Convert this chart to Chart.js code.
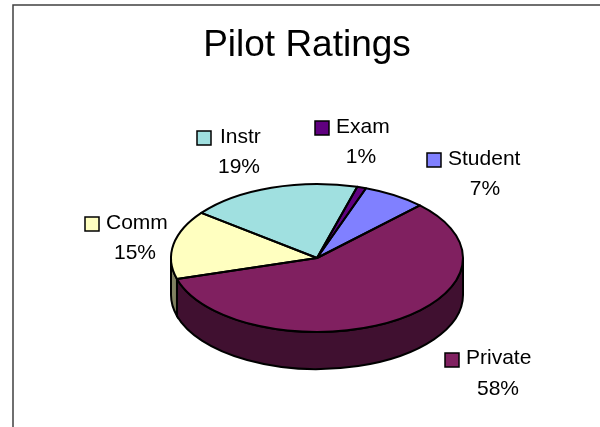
<!DOCTYPE html>
<html>
<head>
<meta charset="utf-8">
<title>Pilot Ratings</title>
<script src="https://cdn.jsdelivr.net/npm/chart.js@4"></script>
<style>
    html, body { margin: 0; padding: 0; background: #fff; }
    canvas { display: block; }
</style>
</head>
<body>
<canvas id="myChart" width="600" height="427"></canvas>
<script>
var chartTitle = 'Pilot Ratings';
var categories = ['Exam', 'Student', 'Private', 'Comm', 'Instr'];
var values = [1, 7, 58, 15, 19];
var sliceColors = ['#600080', '#8080ff', '#802060', '#ffffc0', '#a0e0e0'];
var sideColors = ['#300040', '#404080', '#401030', '#808060', '#507070'];

// marker left, marker top, text left, name baseline, percent centre, percent baseline
var labelSpots = {
    Exam: [315, 121, 336, 133, 361, 163],
    Student: [427, 153, 448, 165, 485, 195],
    Private: [445, 353, 466, 364, 498, 395],
    Comm: [85, 217, 106, 229, 135, 259],
    Instr: [197, 131, 220, 143, 239, 173]
};

var squash = 0.507;   // tilt of the pie
var depth = 37;       // height of the pie side
var fontName = '"Liberation Sans", Arial, sans-serif';

var fakePie3d = {
    id: 'fakePie3d',
    beforeDraw: function(chart) {
        var ctx = chart.ctx;
        ctx.save();
        ctx.strokeStyle = '#404040';
        ctx.lineWidth = 1.5;
        ctx.beginPath();
        ctx.moveTo(13, 427);
        ctx.lineTo(13, 5);
        ctx.lineTo(600, 5);
        ctx.stroke();
        ctx.fillStyle = '#000';
        ctx.font = '37px ' + fontName;
        ctx.textAlign = 'center';
        ctx.fillText(chartTitle, 307, 56);
        ctx.restore();
    },
    beforeDatasetsDraw: function(chart) {
        var ctx = chart.ctx;
        var arcs = chart.getDatasetMeta(0).data;
        // side wall, only the part of each slice that faces the viewer
        arcs.forEach(function(arc, i) {
            var from = Math.max(arc.startAngle, 0);
            var to = Math.min(arc.endAngle, Math.PI);
            if (to <= from) return;
            ctx.save();
            ctx.beginPath();
            ctx.ellipse(arc.x, arc.y, arc.outerRadius, arc.outerRadius * squash, 0, from, to);
            ctx.ellipse(arc.x, arc.y + depth, arc.outerRadius, arc.outerRadius * squash, 0, to, from, true);
            ctx.closePath();
            ctx.fillStyle = sideColors[i];
            ctx.fill();
            ctx.strokeStyle = '#000';
            ctx.lineWidth = 2;
            ctx.stroke();
            ctx.restore();
        });
        var first = arcs[0];
        ctx.save();
        ctx.translate(first.x, first.y);
        ctx.scale(1, squash);
        ctx.translate(-first.x, -first.y);
    },
    afterDatasetsDraw: function(chart) {
        var ctx = chart.ctx;
        ctx.restore();
        // outlines after the restore so the pen is not flattened too
        chart.getDatasetMeta(0).data.forEach(function(arc) {
            ctx.save();
            ctx.beginPath();
            ctx.moveTo(arc.x, arc.y);
            ctx.ellipse(arc.x, arc.y, arc.outerRadius, arc.outerRadius * squash, 0, arc.startAngle, arc.endAngle);
            ctx.closePath();
            ctx.strokeStyle = '#000';
            ctx.lineWidth = 2;
            ctx.lineJoin = 'round';
            ctx.stroke();
            ctx.restore();
        });
        categories.forEach(function(name, i) {
            var s = labelSpots[name];
            ctx.save();
            ctx.fillStyle = sliceColors[i];
            ctx.fillRect(s[0], s[1], 14, 14);
            ctx.strokeStyle = '#000';
            ctx.lineWidth = 1.5;
            ctx.strokeRect(s[0], s[1], 14, 14);
            ctx.fillStyle = '#000';
            ctx.font = '21px ' + fontName;
            ctx.textAlign = 'left';
            ctx.fillText(name, s[2], s[3]);
            ctx.textAlign = 'center';
            ctx.fillText(values[i] + '%', s[4], s[5]);
            ctx.restore();
        });
    }
};

var ctx = document.getElementById('myChart').getContext('2d');
var myChart = new Chart(ctx, {
    type: 'pie',
    data: {
        labels: categories,
        datasets: [{
            label: 'Pilots',
            data: values,
            backgroundColor: sliceColors,
            borderWidth: 0
        }]
    },
    options: {
        responsive: false,
        animation: false,
        rotation: 16,
        layout: { padding: { left: 171, right: 137, top: 112, bottom: 23 } },
        plugins: {
            legend: { display: false },
            title: { display: false },
            tooltip: { enabled: false }
        }
    },
    plugins: [fakePie3d]
});
</script>
</body>
</html>
